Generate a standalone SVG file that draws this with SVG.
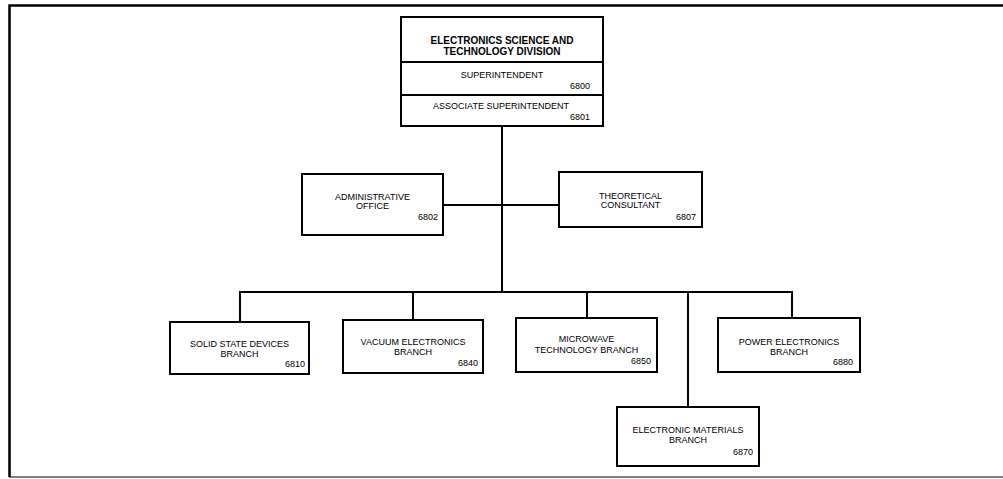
<svg xmlns="http://www.w3.org/2000/svg" width="1003" height="479" viewBox="0 0 1003 479">
<style>
.box{fill:#fff;stroke:#000;stroke-width:2}
.ln{fill:none;stroke:#000;stroke-width:2}
text{font-family:"Liberation Sans",Arial,sans-serif;font-size:9px;fill:#000}
.c{text-anchor:middle}
.r{text-anchor:end}
.b{font-weight:bold;font-size:10px}
</style>
<rect width="1003" height="479" fill="#fff"/>
<g id="frame">
<path d="M9.5,477 V5.5 H1010" fill="none" stroke="#000" stroke-width="2.5"/>
<path d="M9,477 H1010" fill="none" stroke="#000" stroke-width="1.2"/>
</g>
<g id="connectors">
<path class="ln" d="M502,126 V292"/>
<path class="ln" d="M443,205 H559"/>
<path class="ln" d="M240,322 V292 H792 V318"/>
<path class="ln" d="M413,292 V320"/>
<path class="ln" d="M587,292 V318"/>
<path class="ln" d="M688,292 V407"/>
</g>
<g id="division">
<rect class="box" x="401" y="17" width="202" height="109"/>
<path class="ln" d="M401,62 H603 M401,95 H603"/>
<text class="c b" x="502" y="44">ELECTRONICS SCIENCE AND</text>
<text class="c b" x="502" y="55">TECHNOLOGY DIVISION</text>
<text class="c" x="502" y="78">SUPERINTENDENT</text>
<text class="r" x="590" y="89">6800</text>
<text class="c" x="501" y="109">ASSOCIATE SUPERINTENDENT</text>
<text class="r" x="590" y="120">6801</text>
</g>
<g id="admin">
<rect class="box" x="302" y="174" width="141" height="61"/>
<text class="c" x="372.5" y="200">ADMINISTRATIVE</text>
<text class="c" x="372.5" y="209">OFFICE</text>
<text class="r" x="438" y="220">6802</text>
</g>
<g id="theoretical">
<rect class="box" x="559" y="172" width="143" height="55"/>
<text class="c" x="630.5" y="199">THEORETICAL</text>
<text class="c" x="630.5" y="208">CONSULTANT</text>
<text class="r" x="696" y="220">6807</text>
</g>
<g id="solid-state">
<rect class="box" x="170" y="322" width="139" height="52"/>
<text class="c" x="239.5" y="347">SOLID STATE DEVICES</text>
<text class="c" x="239.5" y="357">BRANCH</text>
<text class="r" x="305" y="367">6810</text>
</g>
<g id="vacuum">
<rect class="box" x="343" y="320" width="140" height="53"/>
<text class="c" x="413" y="345">VACUUM  ELECTRONICS</text>
<text class="c" x="413" y="355">BRANCH</text>
<text class="r" x="478" y="366">6840</text>
</g>
<g id="microwave">
<rect class="box" x="516" y="318" width="141" height="54"/>
<text class="c" x="586.5" y="342">MICROWAVE</text>
<text class="c" x="586.5" y="353">TECHNOLOGY BRANCH</text>
<text class="r" x="651" y="364">6850</text>
</g>
<g id="power">
<rect class="box" x="718" y="318" width="142" height="54"/>
<text class="c" x="789" y="345">POWER ELECTRONICS</text>
<text class="c" x="789" y="355">BRANCH</text>
<text class="r" x="853" y="365">6880</text>
</g>
<g id="materials">
<rect class="box" x="617" y="407" width="142" height="59"/>
<text class="c" x="688" y="433">ELECTRONIC MATERIALS</text>
<text class="c" x="688" y="443">BRANCH</text>
<text class="r" x="753" y="455">6870</text>
</g>
</svg>
